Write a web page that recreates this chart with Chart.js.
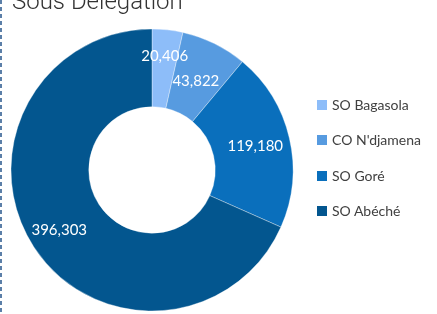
<!DOCTYPE html>
<html>
<head>
<meta charset="utf-8">
<script src="https://cdn.jsdelivr.net/npm/chart.js@4.4.0/dist/chart.umd.min.js"></script>
<style>
  html, body { margin: 0; padding: 0; background: #fff; }
  #wrap { position: relative; width: 437px; height: 314px; overflow: hidden; }
  #dash { position: absolute; left: 0; top: 0; width: 2px; height: 314px;
    background: repeating-linear-gradient(to bottom, #5b7fa8 0 4px, transparent 4px 7px); }
  #title { position: absolute; left: 12px; top: -11px; font-family: Roboto, sans-serif; font-weight: 300;
    font-size: 24px; line-height: 24px; color: #333; white-space: nowrap; }
  #legend { position: absolute; left: 317px; top: 0; font-family: Lato, sans-serif; font-size: 14px; color: #404040; }
  .item { position: absolute; left: 0; white-space: nowrap; height: 16px; line-height: 16px; }
  .sw { position: absolute; left: 0; top: 3px; width: 10px; height: 10px; }
  .lt { position: absolute; left: 15px; top: 0; }
  canvas { position: absolute; left: 0; top: 0; }
</style>
</head>
<body>
<div id="wrap">
  <canvas id="c" width="437" height="314"></canvas>
  <div id="dash"></div>
  <div id="title">Sous Délégation</div>
  <div id="legend"></div>
</div>
<script>
const categories = ["SO Bagasola", "CO N'djamena", "SO Goré", "SO Abéché"];
const values = [20406, 43822, 119180, 396303];
const colors = ["#8dbdf9", "#579be0", "#0a6fbc", "#03568f"];

// legend (HTML)
const legend = document.getElementById('legend');
const legendTops = [97, 132, 168, 203];
categories.forEach((name, i) => {
  const it = document.createElement('div');
  it.className = 'item';
  it.style.top = legendTops[i] + 'px';
  it.innerHTML = '<span class="sw" style="background:' + colors[i] + '"></span><span class="lt"></span>';
  it.querySelector('.lt').textContent = name;
  legend.appendChild(it);
});

const labelPlugin = {
  id: 'sliceLabels',
  afterDatasetsDraw(chart, args, opts) {
    const ctx = chart.ctx;
    const meta = chart.getDatasetMeta(0);
    ctx.save();
    ctx.fillStyle = '#ffffff';
    ctx.font = '15px Lato, sans-serif';
    ctx.textAlign = 'center';
    ctx.textBaseline = 'middle';
    meta.data.forEach((arc, i) => {
      const p = arc.getProps(['x', 'y', 'startAngle', 'endAngle', 'innerRadius', 'outerRadius'], true);
      const mid = (p.startAngle + p.endAngle) / 2;
      const r = p.innerRadius + (p.outerRadius - p.innerRadius) * opts.radial[i];
      const x = p.x + Math.cos(mid) * r;
      const y = p.y + Math.sin(mid) * r;
      ctx.fillText(values[i].toLocaleString('en-US'), x, y);
    });
    ctx.restore();
  }
};

new Chart(document.getElementById('c'), {
  type: 'doughnut',
  data: {
    labels: categories,
    datasets: [{
      data: values,
      backgroundColor: colors,
      borderColor: 'rgba(255,255,255,0.35)',
      borderWidth: 1
    }]
  },
  options: {
    responsive: false,
    animation: false,
    radius: 141,
    cutout: 63,
    layout: { padding: { left: 11, right: 144, top: 29, bottom: 3 } },
    plugins: {
      legend: { display: false },
      tooltip: { enabled: false },
      title: { display: false },
      sliceLabels: { radial: [0.66, 0.46, 0.55, 0.61] }
    }
  },
  plugins: [labelPlugin]
});
</script>
</body>
</html>
